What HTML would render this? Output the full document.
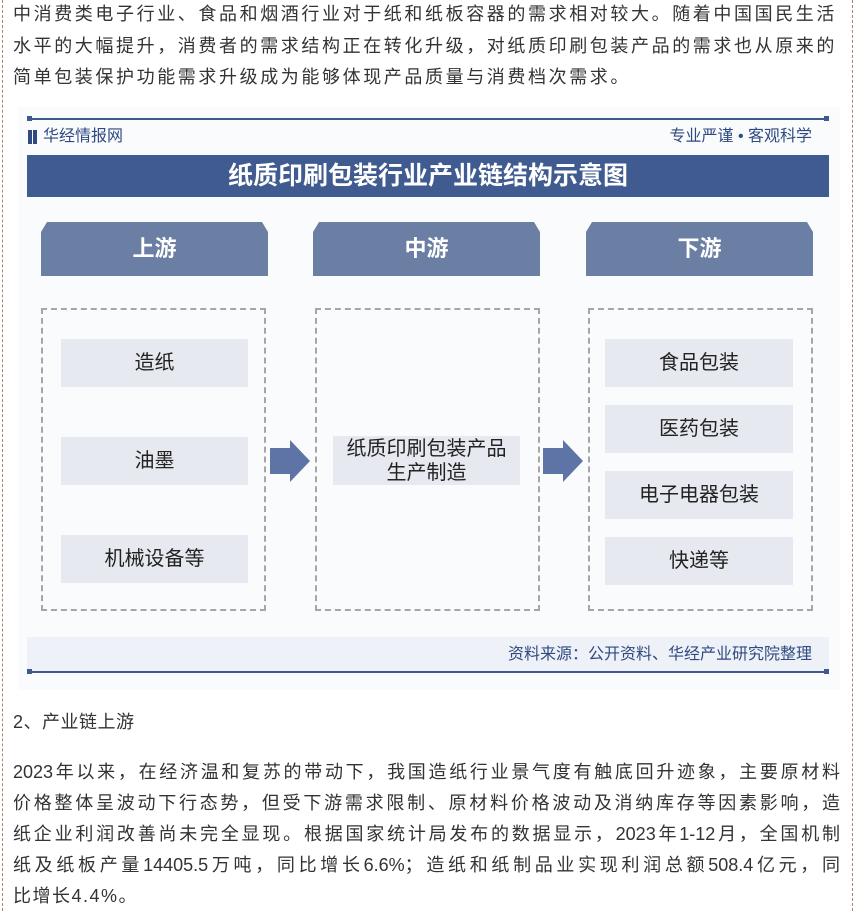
<!DOCTYPE html>
<html><head><meta charset="utf-8">
<style>
*{margin:0;padding:0;box-sizing:border-box}
body{width:855px;height:911px;background:#fff;position:relative;overflow:hidden;font-family:"Liberation Sans","Noto Sans CJK SC",sans-serif;color:#333}
.a{position:absolute}
.ln{position:absolute;left:13px;width:827px;font-size:18px;line-height:24px;letter-spacing:2.6px;white-space:nowrap;color:#333}
.j{text-align:justify;text-align-last:justify;white-space:normal;letter-spacing:0}
.tab{position:absolute;top:222px;width:227px;height:54px;background:#6b7ea3;color:#fff;font-size:22px;font-weight:bold;text-align:center;line-height:54px;clip-path:polygon(6px 0,calc(100% - 6px) 0,100% 10px,100% 100%,0 100%,0 10px)}
.box{position:absolute;top:308px;height:303px;border:2px dashed #a6a6a6}
.it{position:absolute;background:#e6e9ef;font-size:20px;color:#222;text-align:center;display:flex;align-items:center;justify-content:center;line-height:24px}
</style></head><body>
<div class="a" style="left:2px;top:0;width:0;height:911px;border-left:1px dashed #b08070"></div>
<div class="a" style="left:852px;top:0;width:0;height:911px;border-left:1px dashed #b08070"></div>

<div class="ln" style="top:2px">中消费类电子行业、食品和烟酒行业对于纸和纸板容器的需求相对较大。随着中国国民生活</div>
<div class="ln" style="top:34px">水平的大幅提升，消费者的需求结构正在转化升级，对纸质印刷包装产品的需求也从原来的</div>
<div class="ln" style="top:65px">简单包装保护功能需求升级成为能够体现产品质量与消费档次需求。</div>

<div class="a" style="left:18px;top:107px;width:822px;height:583px;background:#fafbfd"></div>
<div class="a" style="left:27px;top:118px;width:802px;height:2px;background:#3f5a8f"></div>
<div class="a" style="left:27px;top:116px;width:5px;height:5px;background:#3f5a8f"></div>
<div class="a" style="left:824px;top:116px;width:5px;height:5px;background:#3f5a8f"></div>
<div class="a" style="left:28px;top:130px;width:4px;height:14px;background:#2f4a80"></div>
<div class="a" style="left:33px;top:130px;width:4px;height:14px;background:#2f4a80"></div>
<div class="a" style="left:43px;top:126px;font-size:16px;color:#2f4a80;line-height:22px">华经情报网</div>
<div class="a" style="left:650px;top:126px;width:162px;text-align:right;font-size:16px;color:#2f4a80;line-height:22px">专业严谨 • 客观科学</div>
<div class="a" style="left:27px;top:155px;width:802px;height:42px;background:#405b90;color:#fff;font-size:25px;font-weight:bold;text-align:center;line-height:42px">纸质印刷包装行业产业链结构示意图</div>

<div class="tab" style="left:41px">上游</div>
<div class="tab" style="left:313px">中游</div>
<div class="tab" style="left:586px">下游</div>

<div class="box" style="left:41px;width:225px"></div>
<div class="box" style="left:315px;width:225px"></div>
<div class="box" style="left:588px;width:225px"></div>

<div class="it" style="left:61px;top:339px;width:187px;height:48px">造纸</div>
<div class="it" style="left:61px;top:437px;width:187px;height:48px">油墨</div>
<div class="it" style="left:61px;top:535px;width:187px;height:48px">机械设备等</div>
<div class="it" style="left:333px;top:436px;width:187px;height:49px">纸质印刷包装产品<br>生产制造</div>
<div class="it" style="left:605px;top:339px;width:188px;height:48px">食品包装</div>
<div class="it" style="left:605px;top:405px;width:188px;height:48px">医药包装</div>
<div class="it" style="left:605px;top:471px;width:188px;height:48px">电子电器包装</div>
<div class="it" style="left:605px;top:537px;width:188px;height:48px">快递等</div>

<svg class="a" style="left:0;top:0" width="855" height="911">
<polygon points="270,448 290,448 290,440 310,461 290,482 290,474 270,474" fill="#5f74a6"/>
<polygon points="543,448 563,448 563,440 583,461 563,482 563,474 543,474" fill="#5f74a6"/>
</svg>

<div class="a" style="left:27px;top:637px;width:802px;height:35px;background:#eef1f7"></div>
<div class="a" style="left:400px;top:643px;width:412px;text-align:right;font-size:16px;color:#2f4a80;line-height:24px">资料来源：公开资料、华经产业研究院整理</div>
<div class="a" style="left:27px;top:671px;width:802px;height:2px;background:#3f5a8f"></div>
<div class="a" style="left:27px;top:669px;width:5px;height:5px;background:#3f5a8f"></div>
<div class="a" style="left:824px;top:669px;width:5px;height:5px;background:#3f5a8f"></div>

<div class="ln" style="top:710px;letter-spacing:0.5px">2、产业链上游</div>
<div class="ln j" style="top:760px">2023年以来，在经济温和复苏的带动下，我国造纸行业景气度有触底回升迹象，主要原材料</div>
<div class="ln j" style="top:791px">价格整体呈波动下行态势，但受下游需求限制、原材料价格波动及消纳库存等因素影响，造</div>
<div class="ln j" style="top:822px">纸企业利润改善尚未完全显现。根据国家统计局发布的数据显示，2023年1-12月，全国机制</div>
<div class="ln j" style="top:853px">纸及纸板产量14405.5万吨，同比增长6.6%；造纸和纸制品业实现利润总额508.4亿元，同</div>
<div class="ln" style="top:884px;letter-spacing:1.5px">比增长4.4%。</div>
</body></html>
